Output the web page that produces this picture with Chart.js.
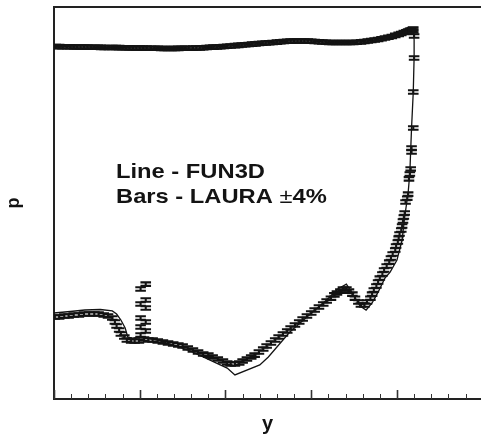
<!DOCTYPE html>
<html>
<head>
<title>Surface pressure - FUN3D vs LAURA</title>
<script src="https://cdn.jsdelivr.net/npm/chart.js"></script>
<style>
    html, body { margin: 0; padding: 0; background: #fff; overflow: hidden; }
    #wrap { width: 481px; height: 436px; }
</style>
</head>
<body>
<div id="wrap"><canvas id="pChart" width="481" height="436"></canvas></div>
<script>
// FUN3D solution, drawn as the thin line (surface order, windward then leeward)
var fun3dY = [0, 0.30, 0.65, 1.00, 1.35, 1.70, 2.05, 2.40, 2.75, 2.99, 3.22, 3.51, 3.74, 3.92, 4.03, 4.13, 4.19,
    4.20, 4.20, 4.19, 4.17, 4.16, 4.15, 4.13, 4.09, 4.06, 4.00, 3.92, 3.86, 3.78, 3.71, 3.64, 3.57, 3.50, 3.41,
    3.31, 3.18, 2.95, 2.75, 2.60, 2.50, 2.40, 2.11, 2.02, 1.82, 1.59, 1.35, 1.20, 1.00, 0.91, 0.86, 0.83, 0.78,
    0.73, 0.68, 0.54, 0.36, 0.19, 0];
var fun3dP = [3350, 3311, 3273, 3236, 3199, 3236, 3388, 3589, 3802, 3802, 3673, 3673, 3890, 4169, 4467, 4786, 5012,
    3890, 2630, 1175, 513, 309, 182, 115, 66.1, 38.9, 24.5, 18.6, 16.2, 11.7, 9.12, 7.76, 8.51, 10.7, 14.1,
    12.6, 9.77, 6.61, 4.68, 3.31, 2.63, 2.19, 1.74, 2.04, 2.45, 3.02, 3.55, 3.89, 4.17, 4.07, 4.17, 5.13, 6.17,
    7.08, 7.59, 7.85, 7.76, 7.50, 7.24];

// LAURA solution, drawn as +/- 4% bars: upper (windward) surface
var lauraUpperY = [0.02, 0.06, 0.10, 0.15, 0.19, 0.23, 0.27, 0.31, 0.35, 0.39,
    0.43, 0.47, 0.51, 0.55, 0.59, 0.64, 0.68, 0.72, 0.76, 0.80,
    0.84, 0.88, 0.92, 0.96, 1.00, 1.04, 1.08, 1.13, 1.17, 1.21,
    1.25, 1.29, 1.33, 1.37, 1.41, 1.45, 1.49, 1.53, 1.57, 1.62,
    1.66, 1.70, 1.74, 1.78, 1.82, 1.86, 1.90, 1.94, 1.98, 2.02,
    2.06, 2.11, 2.15, 2.19, 2.23, 2.27, 2.31, 2.35, 2.39, 2.43,
    2.47, 2.51, 2.55, 2.60, 2.64, 2.68, 2.72, 2.76, 2.80, 2.84,
    2.88, 2.92, 2.96, 3.00, 3.04, 3.09, 3.13, 3.17, 3.21, 3.25,
    3.29, 3.33, 3.37, 3.41, 3.45, 3.49, 3.53, 3.58, 3.62, 3.66,
    3.70, 3.74, 3.78, 3.82, 3.86, 3.90, 3.94, 3.98, 4.02, 4.05,
    4.08, 4.11, 4.13, 4.15, 4.16, 4.18, 4.19];
var lauraUpperP = [3350, 3342, 3334, 3330, 3327, 3319, 3311, 3311, 3311, 3303,
    3296, 3292, 3289, 3285, 3281, 3277, 3273, 3270, 3266, 3258,
    3251, 3247, 3243, 3240, 3236, 3232, 3228, 3225, 3221, 3214,
    3206, 3202, 3199, 3202, 3206, 3210, 3214, 3217, 3221, 3228,
    3236, 3243, 3251, 3270, 3289, 3304, 3319, 3338, 3357, 3376,
    3396, 3420, 3443, 3467, 3491, 3515, 3540, 3564, 3589, 3610,
    3631, 3656, 3681, 3707, 3733, 3758, 3784, 3793, 3802, 3802,
    3802, 3802, 3802, 3784, 3767, 3745, 3724, 3702, 3681, 3677,
    3673, 3673, 3673, 3673, 3673, 3681, 3690, 3728, 3767, 3806,
    3846, 3895, 3945, 4009, 4074, 4150, 4227, 4331, 4436, 4530,
    4624, 4705, 4786, 4842, 4898, 4955, 5012];

// LAURA: nose drop and lower (leeward) surface
var lauraLowerY = [4.19, 4.20, 4.20, 4.19, 4.19, 4.17, 4.17, 4.16, 4.15, 4.14,
    4.13, 4.12, 4.10, 4.09, 4.08, 4.07, 4.06, 4.05, 4.03, 4.02,
    4.01, 3.99, 3.98, 3.95, 3.93, 3.91, 3.88, 3.85, 3.83, 3.80,
    3.78, 3.76, 3.73, 3.71, 3.69, 3.65, 3.62, 3.58, 3.55, 3.51,
    3.48, 3.44, 3.41, 3.37, 3.34, 3.30, 3.27, 3.23, 3.18, 3.14,
    3.09, 3.04, 3.00, 2.95, 2.90, 2.86, 2.81, 2.76, 2.72, 2.67,
    2.62, 2.58, 2.53, 2.48, 2.44, 2.39, 2.34, 2.30, 2.25, 2.20,
    2.16, 2.11, 2.06, 2.02, 1.97, 1.91, 1.85, 1.80, 1.74, 1.68,
    1.62, 1.56, 1.50, 1.45, 1.39, 1.33, 1.27, 1.21, 1.15, 1.10,
    1.07, 1.01, 1.07, 1.01, 1.07, 1.01, 1.07, 1.01, 1.07, 1.01,
    1.05, 0.99, 0.94, 0.90, 0.85, 0.82, 0.78, 0.76, 0.73, 0.71,
    0.68, 0.63, 0.58, 0.52, 0.47, 0.41, 0.35, 0.29, 0.23, 0.17,
    0.12, 0.06, 0.01];
var lauraLowerP = [4786, 4266, 2570, 1175, 513, 324, 295, 200, 178, 159,
    112, 102, 93.3, 72.4, 66.1, 60.3, 53.7, 49.0, 44.7, 40.7,
    37.2, 33.9, 30.9, 28.2, 25.7, 23.4, 21.4, 19.5, 17.8, 16.2,
    14.8, 13.5, 12.3, 11.2, 10.2, 9.33, 8.71, 8.71, 9.33, 10.2,
    11.2, 12.0, 12.6, 12.6, 12.0, 11.5, 11.0, 10.2, 9.55, 8.91,
    8.32, 7.76, 7.24, 6.76, 6.31, 5.89, 5.50, 5.13, 4.79, 4.47,
    4.17, 3.89, 3.63, 3.39, 3.16, 2.95, 2.75, 2.63, 2.51, 2.40,
    2.29, 2.24, 2.24, 2.29, 2.40, 2.51, 2.63, 2.75, 2.82, 2.95,
    3.09, 3.24, 3.39, 3.47, 3.55, 3.63, 3.72, 3.80, 3.89, 3.89,
    14.1, 12.6, 9.77, 8.91, 8.13, 6.46, 5.89, 5.25, 4.79, 4.37,
    3.98, 3.80, 3.80, 3.80, 3.89, 4.17, 4.47, 4.90, 5.37, 5.89,
    6.46, 6.76, 6.92, 7.08, 7.08, 7.08, 7.08, 6.92, 6.92, 6.76,
    6.76, 6.61, 6.61];
var lauraErr = 0.04;

// x axis tick marks (no labels)
var majorTicks = [0, 1, 2, 3, 4];
var minorTicks = [0.2, 0.4, 0.6, 0.8, 1.2, 1.4, 1.6, 1.8, 2.2, 2.4, 2.6, 2.8, 3.2, 3.4, 3.6, 3.8, 4.2, 4.4, 4.6, 4.8];

var ink = '#131313';
var fontFamily = '"Liberation Sans", Arial, Helvetica, sans-serif';

function pairs(xs, ps) {
    var out = [];
    for (var i = 0; i < Math.min(xs.length, ps.length); i++) out.push({x: xs[i], y: ps[i]});
    return out;
}

// draws the LAURA +/-4% bars through the chart scales
var errorBars = {
    id: 'errorBars',
    afterDatasetsDraw: function(chart) {
        var xs = chart.scales.x, ys = chart.scales.y, ctx = chart.ctx, a = chart.chartArea;
        ctx.save();
        ctx.beginPath();
        ctx.rect(a.left, a.top, a.right - a.left, a.bottom - a.top);
        ctx.clip();
        ctx.strokeStyle = ink;
        ctx.lineWidth = 2.1;
        chart.data.datasets.forEach(function(ds) {
            if (!ds.errorBars) return;
            ds.data.forEach(function(d) {
                var px = xs.getPixelForValue(d.x);
                var hi = ys.getPixelForValue(d.y * (1 + lauraErr));
                var lo = ys.getPixelForValue(d.y * (1 - lauraErr));
                ctx.beginPath();
                ctx.moveTo(px, hi); ctx.lineTo(px, lo);
                ctx.moveTo(px - 5.3, hi); ctx.lineTo(px + 5.3, hi);
                ctx.moveTo(px - 5.3, lo); ctx.lineTo(px + 5.3, lo);
                ctx.stroke();
            });
        });
        ctx.restore();
    }
};

// inward tick marks on the bottom axis + the key text
var decorations = {
    id: 'decorations',
    afterDraw: function(chart) {
        var xs = chart.scales.x, ctx = chart.ctx, a = chart.chartArea;
        ctx.save();
        ctx.strokeStyle = '#333';
        function tick(v, len, w) {
            var px = Math.round(xs.getPixelForValue(v)) + 0.5;
            ctx.lineWidth = w;
            ctx.beginPath();
            ctx.moveTo(px, a.bottom);
            ctx.lineTo(px, a.bottom - len);
            ctx.stroke();
        }
        minorTicks.forEach(function(v) { tick(v, 5, 1); });
        majorTicks.forEach(function(v) { tick(v, 9, 1.6); });

        ctx.fillStyle = ink;
        ctx.textBaseline = 'alphabetic';
        ctx.translate(a.left + 62, a.top + 171);
        ctx.scale(1.13, 1);
        ctx.font = 'bold 21px ' + fontFamily;
        ctx.fillText('Line - FUN3D', 0, 0);
        var s = 'Bars - LAURA ';
        ctx.fillText(s, 0, 25);
        var w = ctx.measureText(s).width;
        ctx.font = '21px ' + fontFamily;
        ctx.fillText('\u00b1', w, 25);
        w += ctx.measureText('\u00b1').width;
        ctx.font = 'bold 21px ' + fontFamily;
        ctx.fillText('4%', w, 25);
        ctx.restore();
    }
};

var ctx = document.getElementById('pChart').getContext('2d');
var pChart = new Chart(ctx, {
    type: 'line',
    data: {
        datasets: [
            {
                label: 'FUN3D',
                data: pairs(fun3dY, fun3dP),
                borderColor: ink,
                borderWidth: 1.3,
                pointRadius: 0,
                tension: 0,
                fill: false
            },
            {
                label: 'LAURA upper',
                data: pairs(lauraUpperY, lauraUpperP),
                showLine: false,
                pointRadius: 0,
                errorBars: true
            },
            {
                label: 'LAURA lower',
                data: pairs(lauraLowerY, lauraLowerP),
                showLine: false,
                pointRadius: 0,
                errorBars: true
            }
        ]
    },
    options: {
        responsive: false,
        animation: false,
        events: [],
        layout: { padding: 0 },
        plugins: {
            legend: { display: false },
            tooltip: { enabled: false }
        },
        scales: {
            x: {
                type: 'linear',
                position: 'bottom',
                min: 0,
                max: 4.98,
                bounds: 'data',
                ticks: { display: false },
                grid: { display: false },
                border: { display: true, color: '#222', width: 2 },
                title: {
                    display: true,
                    text: 'y',
                    color: ink,
                    font: { family: fontFamily, weight: 'bold', size: 20 },
                    padding: { top: 0, bottom: 0 }
                },
                afterFit: function(scale) { scale.height = 37; }
            },
            xTop: {
                type: 'linear',
                position: 'top',
                min: 0,
                max: 4.98,
                ticks: { display: false },
                grid: { display: false },
                border: { display: true, color: '#222', width: 2 },
                afterFit: function(scale) { scale.height = 7; }
            },
            y: {
                type: 'logarithmic',
                position: 'left',
                min: 1,
                max: 8318,
                bounds: 'data',
                ticks: { display: false },
                grid: { display: false },
                border: { display: true, color: '#222', width: 2 },
                title: {
                    display: true,
                    text: 'p',
                    color: ink,
                    font: { family: fontFamily, weight: 'bold', size: 18 },
                    padding: { top: 3, bottom: 0 }
                },
                afterFit: function(scale) { scale.width = 54; }
            }
        }
    },
    plugins: [errorBars, decorations]
});
</script>
</body>
</html>
